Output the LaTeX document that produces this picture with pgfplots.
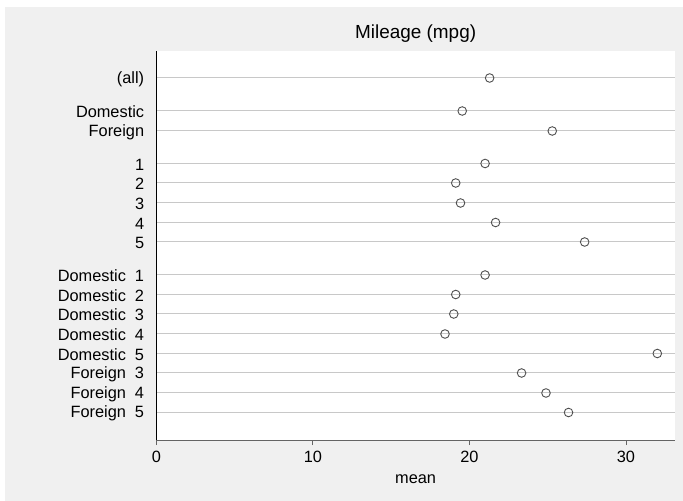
\documentclass[border=0pt]{standalone}
\usepackage{pgfplots}
\pgfplotsset{compat=1.18}
\usepackage{fontspec}
\setmainfont{Liberation Sans}
\definecolor{bg}{RGB}{240,240,240}
\definecolor{gridc}{RGB}{200,200,200}
\definecolor{mk}{RGB}{80,80,80}
\definecolor{xax}{RGB}{100,100,100}
\pgfdeclarelayer{background}
\pgfsetlayers{background,main}
\begin{document}
\begin{tikzpicture}
\begin{axis}[
  name=ax, at={(0,0)}, anchor=south west,
  scale only axis, width=518.7bp, height=389bp,
  xmin=0, xmax=33.13,
  ymin=-440, ymax=-51,
  axis lines*=left,
  axis background/.style={fill=white},
  x axis line style={draw=xax, line width=1bp},
  y axis line style={draw=black, line width=1bp},
  xtick={0,10,20,30},
  xtick style={draw=xax, line width=0.8bp},
  tick align=outside,
  major tick length=5bp,
  ytick={-78,-111,-131,-163.5,-183,-203,-222.5,-242,-275,-294.5,-314,-334,-353.5,-373,-393,-412.5},
  yticklabels={(all),Domestic,Foreign,1,2,3,4,5,Domestic\ \ 1,Domestic\ \ 2,Domestic\ \ 3,Domestic\ \ 4,Domestic\ \ 5,Foreign\ \ 3,Foreign\ \ 4,Foreign\ \ 5},
  ytick style={draw=none},
  ymajorgrids,
  major grid style={draw=gridc, line width=1bp},
  /pgf/number format/assume math mode=true,
  tick label style={font=\fontsize{16.4}{19}\selectfont},
  yticklabel style={anchor=east, inner sep=0pt, xshift=-7bp, yshift=-1bp},
  xticklabel style={anchor=north, inner sep=0pt, yshift=-6bp},
  clip=false,
]
\addplot[only marks, mark=o, mark size=4.3bp, mark options={draw=mk, fill=white, line width=0.9bp}]
coordinates {
(21.29,-78)
(19.54,-111)
(25.29,-131)
(21.00,-163.5)
(19.125,-183)
(19.43,-203)
(21.67,-222.5)
(27.36,-242)
(21.00,-275)
(19.125,-294.5)
(19.00,-314)
(18.44,-334)
(32.00,-353.5)
(23.33,-373)
(24.89,-393)
(26.33,-412.5)
};
\end{axis}
\node[font=\fontsize{19}{22}\selectfont, anchor=center] at ([yshift=17bp]ax.north) {Mileage (mpg)};
\node[font=\fontsize{16.4}{19}\selectfont, anchor=center] at ([yshift=-39bp]ax.south) {mean};
\begin{pgfonlayer}{background}
\fill[white] ([shift={(-156.3bp,-61bp)}]ax.south west) rectangle ++(683bp,501bp);
\fill[bg] ([shift={(-151.3bp,-61bp)}]ax.south west) rectangle ++(678bp,494bp);
\end{pgfonlayer}
\pgfresetboundingbox
\path[use as bounding box] ([shift={(-156.3bp,-61bp)}]ax.south west) rectangle ++(683bp,501bp);
\end{tikzpicture}
\end{document}
